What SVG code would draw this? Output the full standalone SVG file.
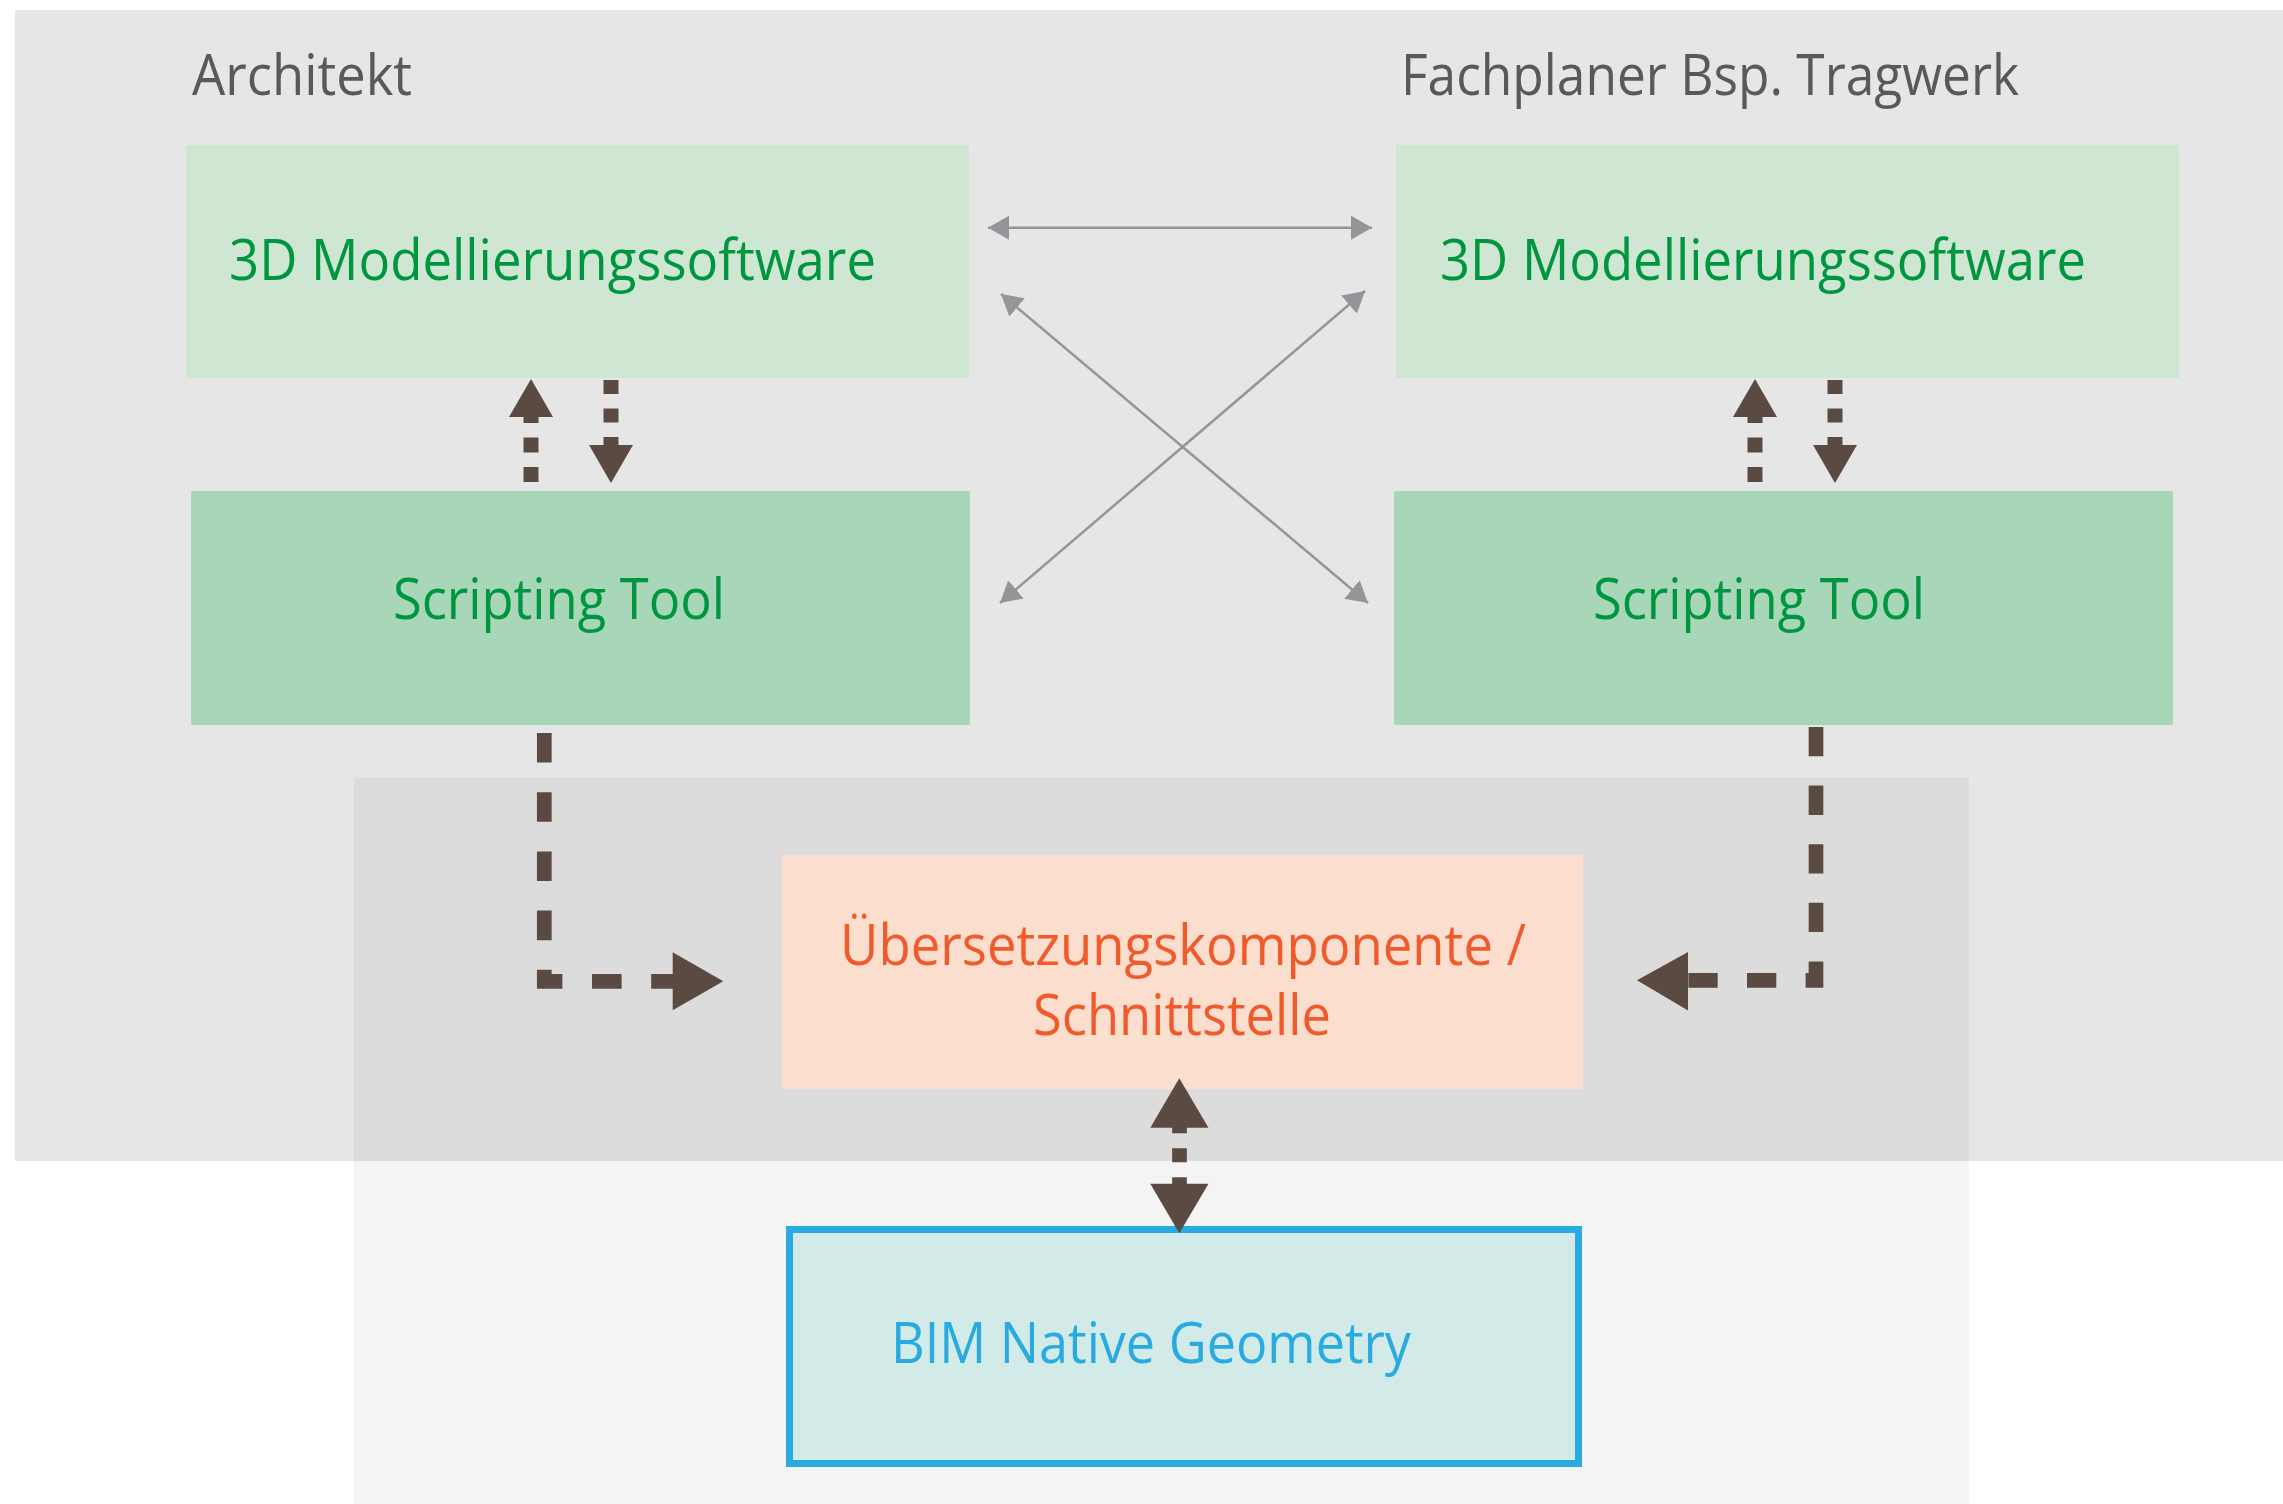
<svg xmlns="http://www.w3.org/2000/svg" width="2283" height="1504" viewBox="0 0 2283 1504">
<style>
  text { font-family: "Open Sans", "Noto Sans", "Liberation Sans", sans-serif; font-size: 56px; }
  .title { fill: #58595b; }
  .green { fill: #00953f; }
  .orange { fill: #f15a2b; }
  .blue { fill: #29abe2; }
  .box3d { fill: #cfe6d3; }
  .boxscript { fill: #a7d7b8; }
  .gray { stroke: #939598; stroke-width: 2.5; fill: none; }
  .dash { stroke: #5b4a42; fill: none; stroke-linejoin: miter; stroke-linecap: butt; }
  .head { fill: #5b4a42; }
</style>
<defs>
  <marker id="ga" markerUnits="userSpaceOnUse" markerWidth="24" markerHeight="26" refX="21" refY="12" orient="auto-start-reverse">
    <path d="M0,0 L21,12 L0,24 z" fill="#939598"/>
  </marker>
</defs>
<rect width="2283" height="1504" fill="#ffffff"/>
<g id="background">
  <rect x="15" y="10" width="2268" height="1151" fill="#e6e6e6"/>
  <rect x="354" y="778" width="1615" height="383" fill="#dcdcdc"/>
  <rect x="354" y="1161" width="1615" height="343" fill="#f4f4f4"/>
</g>
<g id="labels">
  <text class="title" x="192" y="95" textLength="220" lengthAdjust="spacingAndGlyphs">Architekt</text>
  <text class="title" x="1401" y="95" textLength="618" lengthAdjust="spacingAndGlyphs">Fachplaner Bsp. Tragwerk</text>
</g>
<g id="arch-3d">
  <rect class="box3d" x="186" y="145" width="783" height="233"/>
  <text class="green" x="229" y="280" textLength="647" lengthAdjust="spacingAndGlyphs">3D Modellierungssoftware</text>
</g>
<g id="arch-script">
  <rect class="boxscript" x="191" y="491" width="779" height="234"/>
  <text class="green" x="393" y="619" textLength="332" lengthAdjust="spacingAndGlyphs">Scripting Tool</text>
</g>
<g id="fach-3d">
  <rect class="box3d" x="1396" y="145" width="783" height="233"/>
  <text class="green" x="1440" y="280" textLength="646" lengthAdjust="spacingAndGlyphs">3D Modellierungssoftware</text>
</g>
<g id="fach-script">
  <rect class="boxscript" x="1394" y="491" width="779" height="234"/>
  <text class="green" x="1593" y="619" textLength="332" lengthAdjust="spacingAndGlyphs">Scripting Tool</text>
</g>
<g id="translation">
  <rect x="782" y="855" width="801" height="234" fill="#fbdecd"/>
  <text class="orange" x="840" y="965" textLength="686" lengthAdjust="spacingAndGlyphs">Übersetzungskomponente /</text>
  <text class="orange" x="1033" y="1035" textLength="298" lengthAdjust="spacingAndGlyphs">Schnittstelle</text>
</g>
<g id="bim">
  <rect x="789.5" y="1229.5" width="789" height="234" fill="#d2ebe8" stroke="#29abe2" stroke-width="7"/>
  <text class="blue" x="891" y="1363" textLength="520" lengthAdjust="spacingAndGlyphs">BIM Native Geometry</text>
</g>
<g id="connectors">
  <line class="gray" x1="988" y1="227.7" x2="1372" y2="227.7" marker-start="url(#ga)" marker-end="url(#ga)"/>
  <line class="gray" x1="1001" y1="294" x2="1368" y2="603" marker-start="url(#ga)" marker-end="url(#ga)"/>
  <line class="gray" x1="1365" y1="291" x2="1000" y2="603" marker-start="url(#ga)" marker-end="url(#ga)"/>

  <path class="dash" d="M531 482 V417" stroke-width="15" stroke-dasharray="15 14.5"/>
  <polygon class="head" points="509,417 531,379 553,417"/>
  <path class="dash" d="M611 380 V446" stroke-width="15" stroke-dasharray="14 14.5"/>
  <polygon class="head" points="589,445 611,483 633,445"/>

  <path class="dash" d="M1755 482 V417" stroke-width="15" stroke-dasharray="15 14.5"/>
  <polygon class="head" points="1733,417 1755,379 1777,417"/>
  <path class="dash" d="M1835 380 V446" stroke-width="15" stroke-dasharray="14 14.5"/>
  <polygon class="head" points="1813,445 1835,483 1857,445"/>

  <path class="dash" d="M544.3 733 V981.3 H674" stroke-width="14.7" stroke-dasharray="29.6 29.6"/>
  <polygon class="head" points="672.7,952.3 723.3,981.3 672.7,1010.3"/>

  <path class="dash" d="M1816 727 V980.3 H1686" stroke-width="14.7" stroke-dasharray="29.3 29.3"/>
  <polygon class="head" points="1688,952 1637,980.3 1688,1010.5"/>

  <path class="dash" d="M1179.5 1119.3 V1191.3" stroke-width="14.7" stroke-dasharray="14 15"/>
  <polygon class="head" points="1150.3,1127.7 1179.3,1078.3 1208.5,1127.7"/>
  <polygon class="head" points="1150.3,1183.7 1179.3,1233.3 1208.5,1183.7"/>
</g>
</svg>
